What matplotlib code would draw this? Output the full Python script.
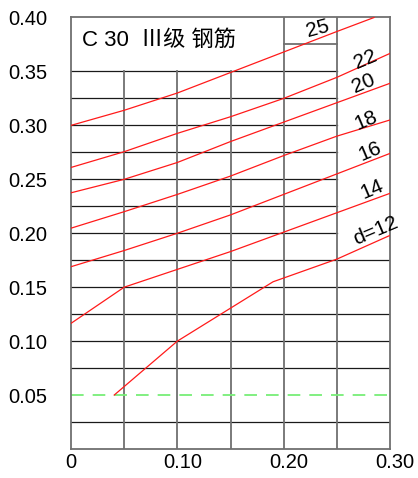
import matplotlib
matplotlib.use("Agg")
import matplotlib.pyplot as plt
import matplotlib.transforms as mtrans

plt.rcParams['font.family'] = ['Liberation Sans', 'Noto Sans CJK SC', 'DejaVu Sans']

# ---- data ----
x_grid = [0, 0.05, 0.10, 0.15, 0.20, 0.25, 0.30]
curve_labels = ['25', '22', '20', '18', '16', '14', 'd=12']
x_25 = [0, 0.05, 0.10, 0.15, 0.20, 0.25, 0.285]
y_25 = [0.300, 0.314, 0.330, 0.349, 0.368, 0.387, 0.400]
y_22 = [0.261, 0.2756, 0.2926, 0.308, 0.325, 0.3445, 0.3667]
y_20 = [0.2375, 0.250, 0.2656, 0.285, 0.303, 0.321, 0.339]
y_18 = [0.2047, 0.220, 0.236, 0.253, 0.272, 0.290, 0.305]
y_16 = [0.169, 0.184, 0.200, 0.217, 0.236, 0.255, 0.274]
y_14 = [0.1165, 0.150, 0.1665, 0.183, 0.201, 0.219, 0.237]
x_12 = [0.0406, 0.10, 0.19, 0.25, 0.30]
y_12 = [0.050, 0.100, 0.155, 0.176, 0.198]
limit_y = 0.05
y_ticks = [0.05, 0.10, 0.15, 0.20, 0.25, 0.30, 0.35, 0.40]
y_ticklabels = ['0.05', '0.10', '0.15', '0.20', '0.25', '0.30', '0.35', '0.40']
x_ticks = [0, 0.10, 0.20, 0.30]
x_ticklabels = ['0', '0.10', '0.20', '0.30']
title_text = 'C 30  Ⅲ级 钢筋'

# label positions / angles
label_pos = {
    '25': (0.232, 0.390, 15),
    '22': (0.277, 0.361, 23),
    '20': (0.275, 0.339, 23),
    '18': (0.277, 0.305, 23),
    '16': (0.281, 0.276, 23),
    '14': (0.283, 0.241, 23),
    'd=12': (0.286, 0.202, 23),
}

fig = plt.figure(figsize=(4.18, 4.78), dpi=100)
ax = fig.add_axes([0.170, 0.0607, 0.763, 0.9027])
ax.set_xlim(0, 0.30)
ax.set_ylim(0, 0.40)

vcol = '#707070'
hcol = '#1a1a1a'
# horizontal grid lines
for i in range(1, 15):
    y = i * 0.025
    if abs(y - limit_y) < 1e-9:
        continue
    xe = 0.30 if y <= 0.175 + 1e-9 else 0.25
    ax.plot([0, xe], [y, y], color=hcol, lw=0.9, zorder=1)
ax.plot([0.20, 0.25], [0.375, 0.375], color=vcol, lw=1.3, zorder=1)
# vertical grid lines
for xv in [0.05, 0.10, 0.15]:
    ax.plot([xv, xv], [0, 0.35], color=vcol, lw=1.3, zorder=1)
for xv in [0.20, 0.25]:
    ax.plot([xv, xv], [0, 0.40], color=vcol, lw=1.3, zorder=1)

for s in ax.spines.values():
    s.set_color(vcol)
    s.set_linewidth(1.3)

# curves
red = '#ff1a1a'
ax.plot(x_25, y_25, color=red, lw=0.9, zorder=3)
for ys in [y_22, y_20, y_18, y_16, y_14]:
    ax.plot(x_grid, ys, color=red, lw=0.9, zorder=3)
ax.plot(x_12, y_12, color=red, lw=0.9, zorder=3)

# limit line
ax.plot([0, 0.30], [limit_y, limit_y], color='#77ee77', lw=1.3,
        dashes=(7, 5), zorder=2)

for lab in curve_labels:
    x, y, r = label_pos[lab]
    ax.text(x, y, lab, fontsize=15, rotation=r, ha='center', va='center',
            rotation_mode='anchor', color='black', zorder=4)

ax.text(0.010, 0.379, title_text, fontsize=16, ha='left', va='center',
        family=['Liberation Sans', 'Noto Sans CJK SC'], zorder=4)

ax.set_yticks(y_ticks)
ax.set_yticklabels(y_ticklabels)
ax.set_xticks(x_ticks)
ax.set_xticklabels(x_ticklabels)
ax.tick_params(axis='both', length=0, labelsize=14.5)
ax.tick_params(axis='y', pad=17)
ax.tick_params(axis='x', pad=3)
offset = mtrans.ScaledTranslation(5 / 100, 0, fig.dpi_scale_trans)
for t in ax.get_xticklabels()[1:]:
    t.set_transform(t.get_transform() + offset)

fig.savefig('out.png', dpi=100)
